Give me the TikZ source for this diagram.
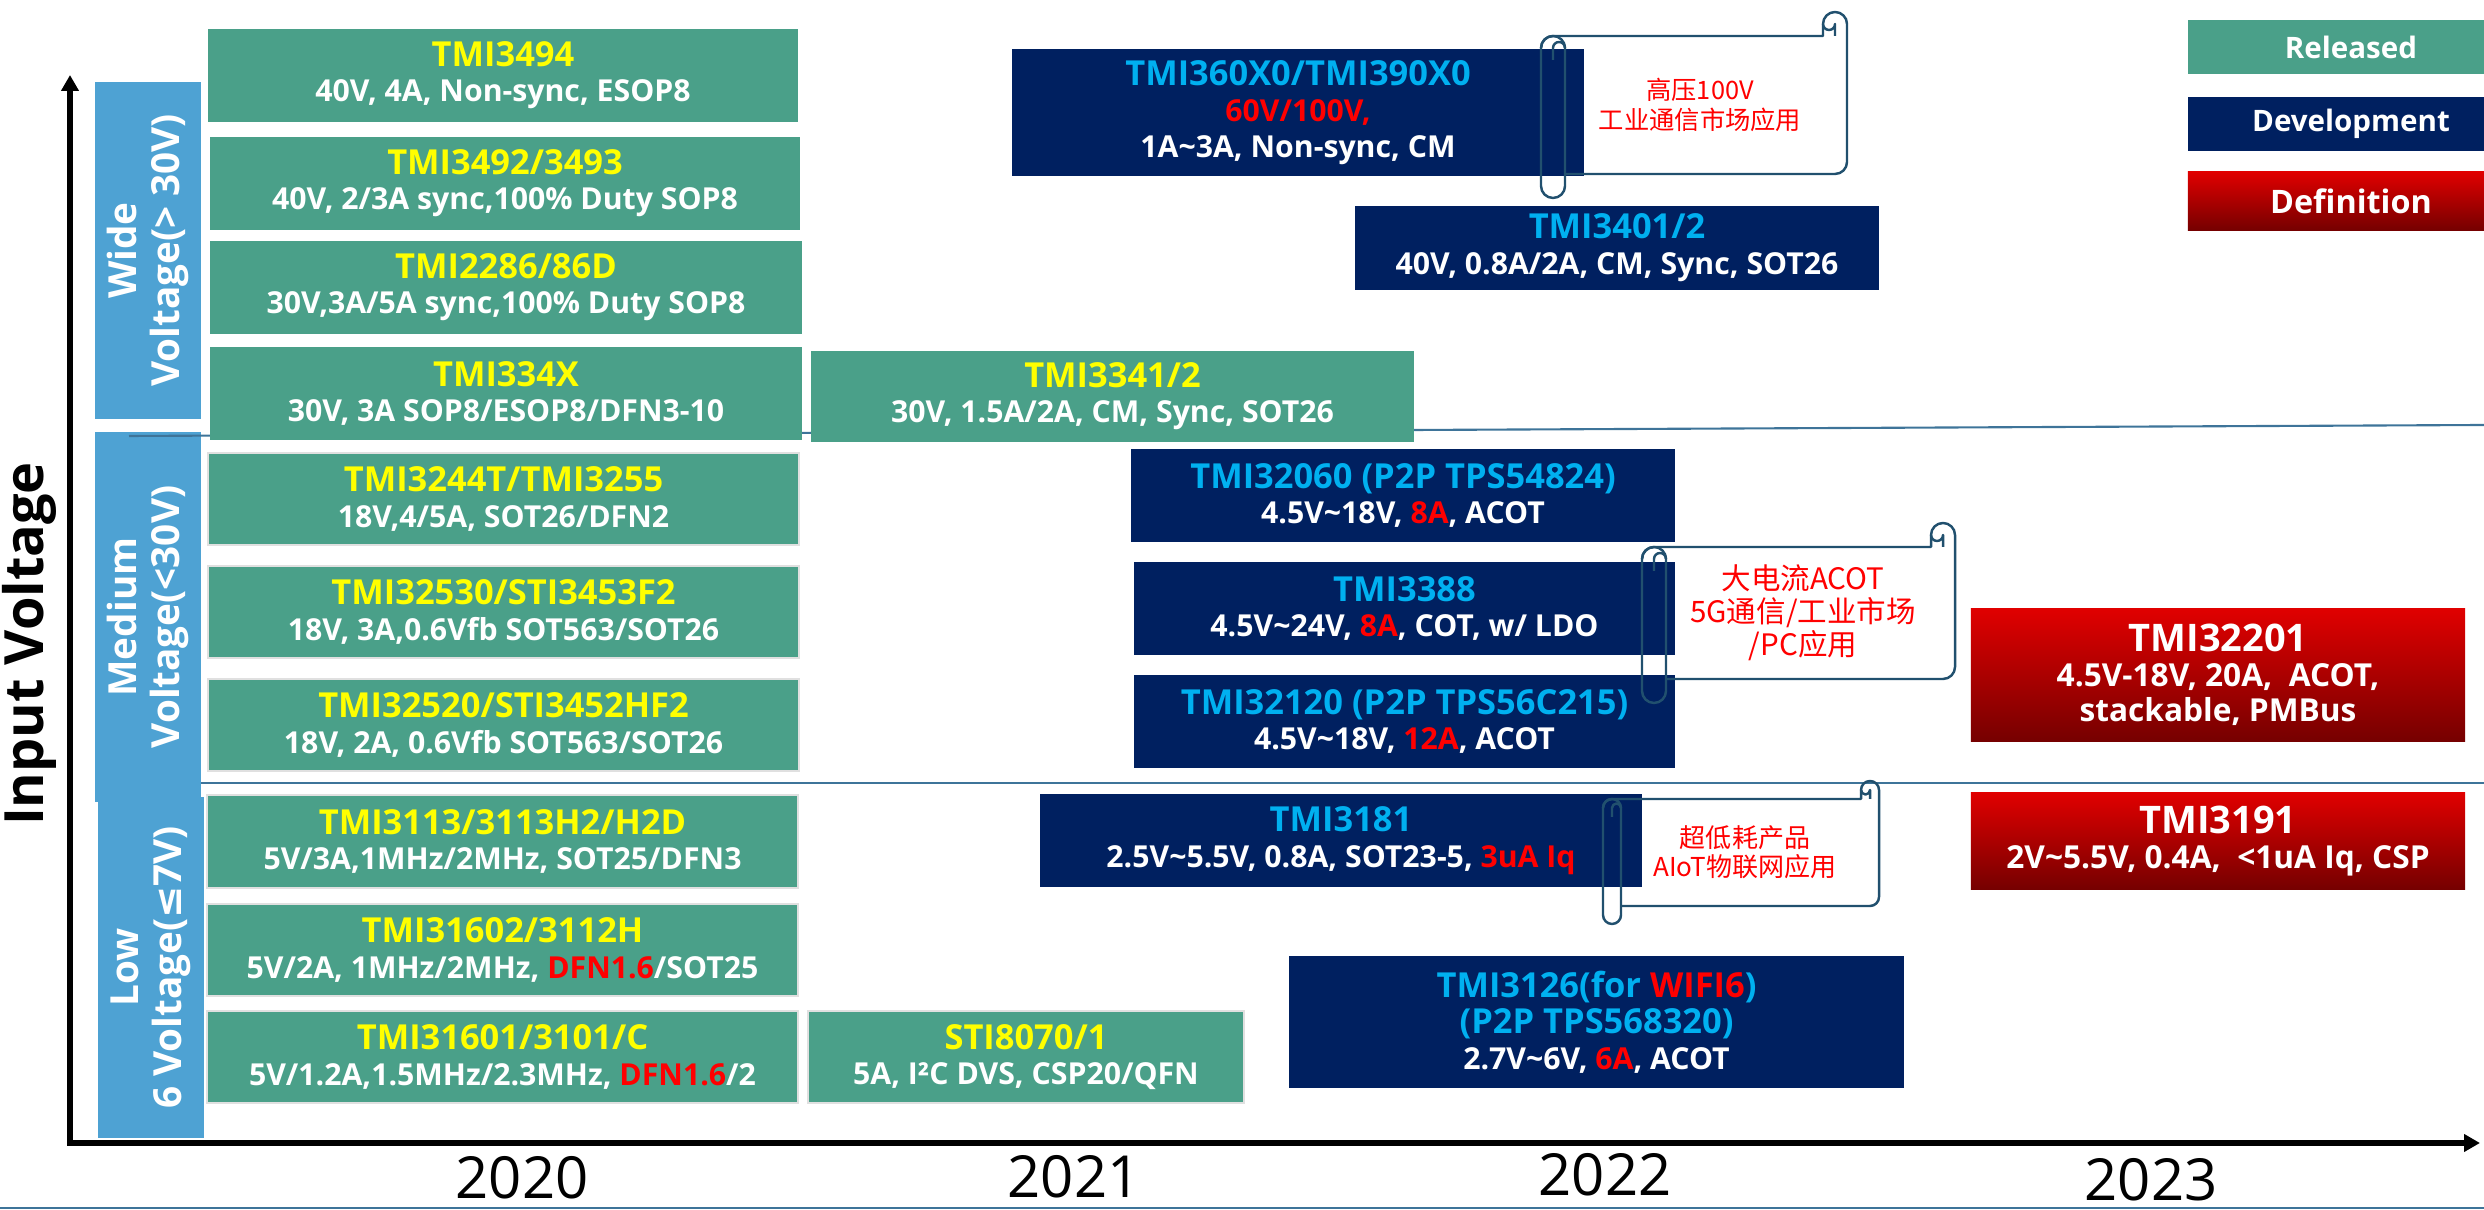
\documentclass[tikz,border=0pt]{standalone}
\usepackage{fontspec}
\setmainfont{Open Sans}
\newfontfamily\cjk{Noto Sans CJK SC}
\newfontfamily\symfont{DejaVu Sans}
\usepackage{tikz}
\usetikzlibrary{arrows.meta}

\definecolor{relgreen}{RGB}{74,160,137}
\definecolor{devnavy}{RGB}{0,32,96}
\definecolor{devcyan}{RGB}{0,176,240}
\definecolor{catblue}{RGB}{78,162,211}
\definecolor{linecol}{RGB}{62,116,153}
\definecolor{scrollcol}{RGB}{33,80,110}
\definecolor{defred}{RGB}{224,0,0}
\definecolor{defdark}{RGB}{118,0,0}
\definecolor{hlred}{RGB}{255,0,0}
\definecolor{titleyellow}{RGB}{255,255,0}

\tikzstyle{relbox} = [rectangle, fill=relgreen, text=white, align=center, inner sep=0pt,
	font=\fontsize{8.6}{10}\selectfont\bfseries]
\tikzstyle{relboxe} = [relbox, draw=black!12, line width=0.7pt]
\tikzstyle{devbox} = [rectangle, fill=devnavy, text=white, align=center, inner sep=0pt,
	font=\fontsize{8.6}{10.2}\selectfont\bfseries]
\tikzstyle{defbox} = [rectangle, top color=defred, bottom color=defdark, text=white, align=center,
	inner sep=0pt, font=\fontsize{9}{10}\selectfont\bfseries]
\tikzstyle{catbar} = [rectangle, fill=catblue, text=white, align=center, rotate=90, inner sep=0pt,
	minimum height=1.06cm, font=\fontsize{11}{12.2}\selectfont\bfseries]
\tikzstyle{scrolltext} = [text=hlred, align=center, inner sep=0pt]
\tikzstyle{scrollout} = [draw=scrollcol, line width=0.7pt, line join=round]
\tikzstyle{sepline} = [draw=linecol, line width=0.6pt]
\tikzstyle{axisline} = [line width=1.7pt, -{Triangle[width=0.17cm,length=0.16cm]}]

\newcommand{\ytitle}[1]{{\fontsize{9.8}{10}\selectfont\color{titleyellow}#1}}
\newcommand{\ctitle}[1]{{\fontsize{9.8}{10.2}\selectfont\color{devcyan}#1}}
\newcommand{\rtitle}[1]{{\fontsize{10.8}{10}\selectfont #1}}
\newcommand{\redtx}[1]{\textcolor{hlred}{#1}}
\newcommand{\tild}{\textasciitilde}
% left, top, right, bottom, roll radius
\newcommand{\scrollpath}[5]{%
	\draw [scrollout] (#1,{#2+#5}) arc (180:270:#5) -- ({#3-2*#5},#2) -- ({#3-2*#5},{#2-#5})
		arc (180:360:#5) -- (#3,{#4-#5}) arc (0:90:#5) -- ({#1+2*#5},#4);
	\draw [scrollout] ({#3-#5},#2) -- ({#3-#5},{#2-#5}) arc (0:180:#5/2);
	\draw [scrollout] (#1,{#2+#5}) -- (#1,{#4+#5}) arc (180:0:#5) -- ({#1+2*#5},{#2+#5})
		arc (0:-180:#5) -- cycle;
	\draw [scrollout] ({#1+#5},{#2+2*#5}) -- ({#1+#5},{#2+#5}) arc (180:360:#5/2);
}

\begin{document}
\begin{tikzpicture}[x=0.01cm,y=-0.01cm]
	\useasboundingbox (0,0) rectangle (2484,1210);
	
	\node [catbar, minimum width=3.37cm] (Wide) at (148,250.5) {Wide\\Voltage(> 30V)};
	\node [catbar, minimum width=3.70cm] (Medium) at (148,617) {Medium\\Voltage(<30V)};
	\node [catbar, minimum width=3.41cm] (Low) at (151,967.5) {Low\\6 Voltage({\symfont ≤}7V)};
	
	\draw [sepline] (129,436) -- (2484,425);
	\draw [sepline] (201,783) -- (2484,783);
	\draw [sepline] (0,1208) -- (2484,1208);
	
	\node [relbox, minimum width=5.90cm, minimum height=0.93cm] (N3494) at (503,75.5)
		{\ytitle{TMI3494}\\40V, 4A, Non-sync, ESOP8};
	\node [relbox, minimum width=5.90cm, minimum height=0.93cm] (N3492) at (505,183.5)
		{\ytitle{TMI3492/3493}\\40V, 2/3A sync,100\% Duty SOP8};
	\node [relbox, minimum width=5.92cm, minimum height=0.93cm] (N2286) at (506,287.5)
		{\ytitle{TMI2286/86D}\\30V,3A/5A sync,100\% Duty SOP8};
	\node [relbox, minimum width=5.92cm, minimum height=0.93cm] (N334X) at (506,393.5)
		{\ytitle{TMI334X}\\30V, 3A SOP8/ESOP8/DFN3-10};
	\node [relbox, minimum width=6.03cm, minimum height=0.91cm] (N3341) at (1112.5,396.5)
		{\ytitle{TMI3341/2}\\30V, 1.5A/2A, CM, Sync, SOT26};
	\node [relboxe, minimum width=5.91cm, minimum height=0.92cm] (N3244) at (503.5,499)
		{\ytitle{TMI3244T/TMI3255}\\18V,4/5A, SOT26/DFN2};
	\node [relboxe, minimum width=5.91cm, minimum height=0.92cm] (N32530) at (503.5,612)
		{\ytitle{TMI32530/STI3453F2}\\18V, 3A,0.6Vfb SOT563/SOT26};
	\node [relboxe, minimum width=5.91cm, minimum height=0.92cm] (N32520) at (503.5,725)
		{\ytitle{TMI32520/STI3452HF2}\\18V, 2A, 0.6Vfb SOT563/SOT26};
	\node [relboxe, minimum width=5.91cm, minimum height=0.93cm] (N3113) at (502.5,841.5)
		{\ytitle{TMI3113/3113H2/H2D}\\5V/3A,1MHz/2MHz, SOT25/DFN3};
	\node [relboxe, minimum width=5.91cm, minimum height=0.92cm] (N31602) at (502.5,950)
		{\ytitle{TMI31602/3112H}\\5V/2A, 1MHz/2MHz, \redtx{DFN1.6}/SOT25};
	\node [relboxe, minimum width=5.91cm, minimum height=0.92cm] (N31601) at (502.5,1057)
		{\ytitle{TMI31601/3101/C}\\5V/1.2A,1.5MHz/2.3MHz, \redtx{DFN1.6}/2};
	\node [relboxe, minimum width=4.36cm, minimum height=0.92cm] (N8070) at (1026,1057)
		{\ytitle{STI8070/1}\\5A, I²C DVS, CSP20/QFN};
	
	\node [devbox, minimum width=5.72cm, minimum height=1.27cm] (N360X0) at (1298,112.5)
		{\ctitle{TMI360X0/TMI390X0}\\\redtx{60V/100V,}\\1A\tild3A, Non-sync, CM};
	\node [devbox, minimum width=5.24cm, minimum height=0.84cm] (N3401) at (1617,248)
		{\ctitle{TMI3401/2}\\40V, 0.8A/2A, CM, Sync, SOT26};
	\node [devbox, minimum width=5.44cm, minimum height=0.93cm] (N32060) at (1403,495.5)
		{\ctitle{TMI32060 (P2P TPS54824)}\\4.5V\tild18V, \redtx{8A}, ACOT};
	\node [devbox, minimum width=5.41cm, minimum height=0.93cm] (N3388) at (1404.5,608.5)
		{\ctitle{TMI3388}\\4.5V\tild24V, \redtx{8A}, COT, w/ LDO};
	\node [devbox, minimum width=5.41cm, minimum height=0.93cm] (N32120) at (1404.5,721.5)
		{\ctitle{TMI32120 (P2P TPS56C215)}\\4.5V\tild18V, \redtx{12A}, ACOT};
	\node [devbox, minimum width=6.02cm, minimum height=0.93cm] (N3181) at (1341,840.5)
		{\ctitle{TMI3181}\\2.5V\tild5.5V, 0.8A, SOT23-5, \redtx{3uA Iq}};
	\node [devbox, minimum width=6.15cm, minimum height=1.32cm] (N3126) at (1596.5,1022)
		{\ctitle{TMI3126(for \redtx{WIFI6})}\\\ctitle{(P2P TPS568320)}\\2.7V\tild6V, \redtx{6A}, ACOT};
	
	\node [defbox, minimum width=4.94cm, minimum height=1.32cm] (N32201) at (2218,675)
		{\rtitle{TMI32201}\\4.5V-18V, 20A,\ \ ACOT,\\stackable, PMBus};
	\node [defbox, minimum width=4.94cm, minimum height=0.96cm] (N3191) at (2218,841)
		{\rtitle{TMI3191}\\2V\tild5.5V, 0.4A,\ \ <1uA Iq, CSP};
	
	\node [relbox, minimum width=3.26cm, minimum height=0.54cm, font=\fontsize{8.4}{10}\selectfont\bfseries] (Released) at (2351,47) {Released};
	\node [devbox, minimum width=3.26cm, minimum height=0.54cm, font=\fontsize{8.4}{10}\selectfont\bfseries] (Development) at (2351,124) {Development};
	\node [defbox, minimum width=3.26cm, minimum height=0.58cm, font=\fontsize{9.2}{10}\selectfont\bfseries] (Definition) at (2351,201) {Definition};
	
	\scrollpath{1541}{36}{1847}{174}{12}
	\scrollpath{1642}{547}{1955}{679}{12}
	\scrollpath{1603}{799}{1879}{906}{9}
	\node [scrolltext, font=\cjk\fontsize{7.2}{8.5}\selectfont] (S1) at (1700,105) {高压100V\\工业通信市场应用};
	\node [scrolltext, font=\cjk\fontsize{8.4}{9.4}\selectfont] (S2) at (1803,613) {大电流ACOT\\5G通信/工业市场\\/PC应用};
	\node [scrolltext, font=\cjk\fontsize{7.4}{8.2}\selectfont] (S3) at (1745,852) {超低耗产品\\AIoT物联网应用};
	
	\coordinate (O) at (70,1146);
	\coordinate (Ytop) at (70,75);
	\coordinate (Xend) at (2480,1143);
	\draw [axisline] (O) -- (Ytop);
	\draw [axisline] (67,1143) -- (Xend);
	
	\node [rotate=90, anchor=base, font=\fontsize{15.4}{16}\selectfont\bfseries] (IV) at (43,644) {Input Voltage};
	\foreach \yr/\xx/\yy in {2020/522/1178, 2021/1074/1177, 2022/1605/1175, 2023/2151/1180}{
		\node [font=\fontsize{16.5}{18}\selectfont] (Y\yr) at (\xx,\yy) {\yr};
	}
	
\end{tikzpicture}
\end{document}
